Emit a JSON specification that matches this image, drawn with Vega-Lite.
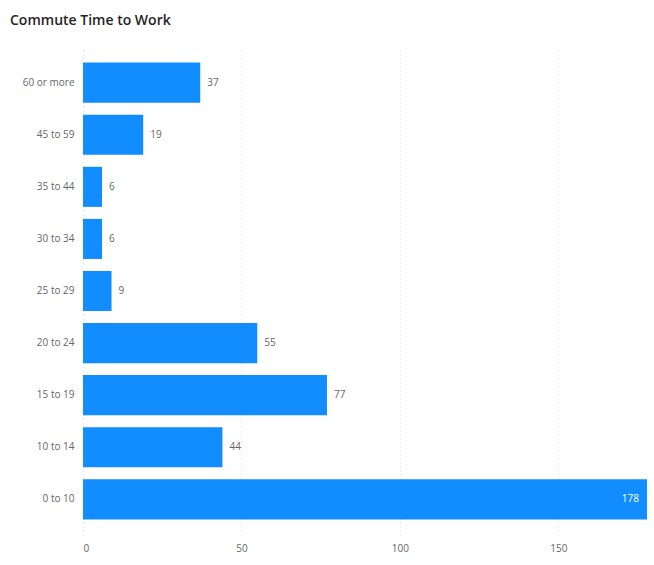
{
  "$schema": "https://vega.github.io/schema/vega-lite/v6.json",
  "autosize": {"type": "none"},
  "width": 564,
  "height": 488,
  "padding": {"left": 83, "top": 47, "right": 7, "bottom": 30},
  "background": "white",
  "title": {
    "text": "Commute Time to Work",
    "anchor": "start",
    "frame": "group",
    "dx": -73,
    "offset": 19,
    "font": "Open Sans",
    "fontSize": 14,
    "fontWeight": 600,
    "color": "#252423"
  },
  "data": {
    "values": [
      {"category": "60 or more", "count": 37},
      {"category": "45 to 59", "count": 19},
      {"category": "35 to 44", "count": 6},
      {"category": "30 to 34", "count": 6},
      {"category": "25 to 29", "count": 9},
      {"category": "20 to 24", "count": 55},
      {"category": "15 to 19", "count": 77},
      {"category": "10 to 14", "count": 44},
      {"category": "0 to 10", "count": 178}
    ]
  },
  "encoding": {
    "y": {
      "field": "category",
      "type": "nominal",
      "sort": null,
      "scale": {"paddingInner": 0.23, "paddingOuter": 0.3},
      "axis": {
        "title": null,
        "ticks": false,
        "domain": false,
        "labelPadding": 9,
        "labelFont": "Open Sans",
        "labelFontSize": 10,
        "labelColor": "#666666",
        "grid": false
      }
    },
    "x": {
      "field": "count",
      "type": "quantitative",
      "scale": {"domain": [0, 178], "nice": false},
      "axis": {
        "title": null,
        "values": [0, 50, 100, 150],
        "ticks": false,
        "domain": false,
        "labelPadding": 8,
        "labelFont": "Open Sans",
        "labelFontSize": 10,
        "labelColor": "#666666",
        "grid": true,
        "gridColor": "#d9d9d9",
        "gridDash": [1, 3],
        "gridWidth": 1
      }
    }
  },
  "layer": [
    {"mark": {"type": "bar", "color": "#118DFF"}},
    {
      "transform": [{"filter": "datum.count < 150"}],
      "mark": {"type": "text", "align": "left", "dx": 7, "font": "Open Sans", "fontSize": 10, "color": "#666666"},
      "encoding": {"text": {"field": "count", "type": "quantitative"}}
    },
    {
      "transform": [{"filter": "datum.count >= 150"}],
      "mark": {"type": "text", "align": "right", "dx": -8, "font": "Open Sans", "fontSize": 10, "color": "#ffffff"},
      "encoding": {"text": {"field": "count", "type": "quantitative"}}
    }
  ],
  "config": {"view": {"stroke": null}}
}
